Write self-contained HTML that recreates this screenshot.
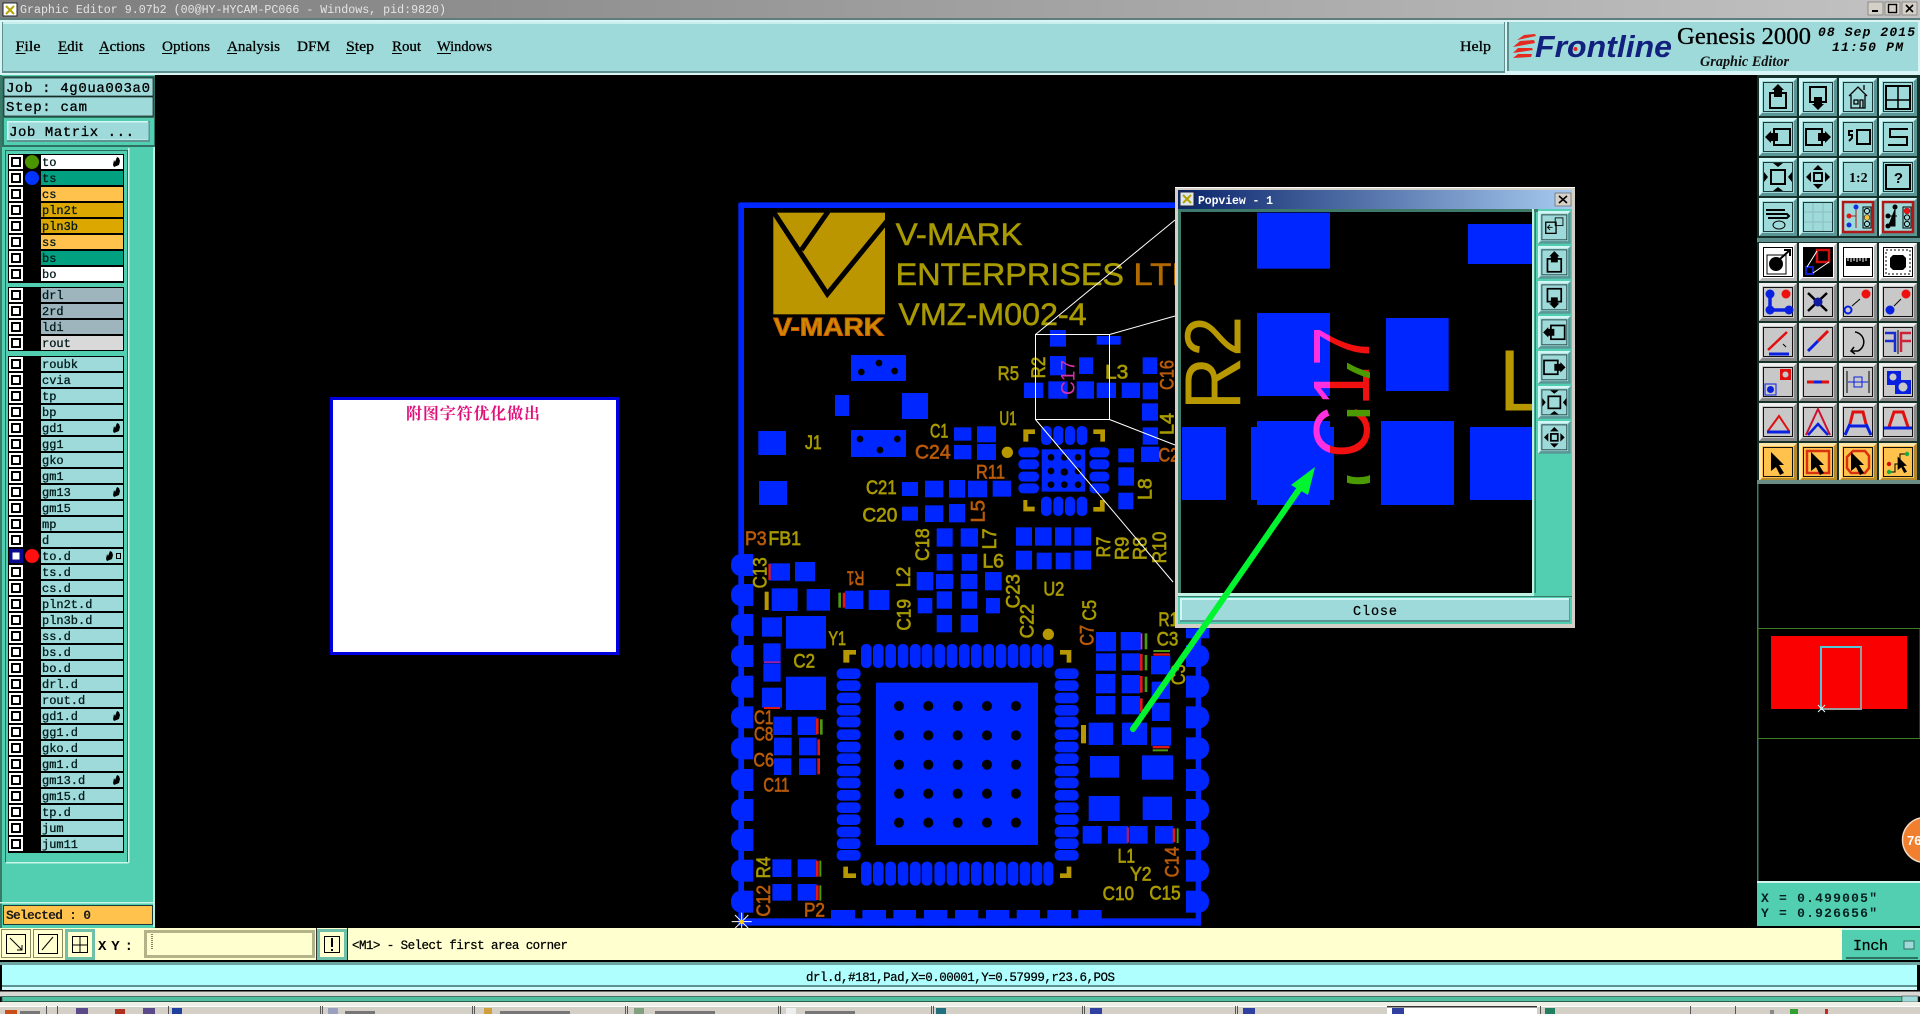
<!DOCTYPE html>
<html><head><meta charset="utf-8"><title>Graphic Editor</title>
<style>
html,body{margin:0;padding:0;background:#000;width:1920px;height:1014px;overflow:hidden}
svg{display:block}
.m{font-family:"Liberation Mono",monospace}
.s{font-family:"Liberation Serif",serif}
.l{font-family:"Liberation Mono",monospace;font-size:12px;fill:#001a1a;stroke:#001a1a;stroke-width:.3px}
.mn{font-family:"Liberation Serif",serif;font-size:15px;fill:#000;stroke:#000;stroke-width:.3px}
.p{font-family:"Liberation Sans",sans-serif;font-size:58px;fill:#a89a00;stroke:#a89a00;stroke-width:2px}
.r{font-family:"Liberation Sans",sans-serif;font-size:58px;fill:#b85a08;stroke:#b85a08;stroke-width:2px}
.bl rect{fill:#0026ff}
</style></head><body>
<svg xmlns="http://www.w3.org/2000/svg" width="1920" height="1014" viewBox="0 0 1920 1014">
<defs>
<linearGradient id="tb" x1="0" x2="1"><stop offset="0" stop-color="#7d7d7d"/><stop offset="1" stop-color="#c2c2c2"/></linearGradient>
<linearGradient id="pt" x1="0" x2="1"><stop offset="0" stop-color="#0a246a"/><stop offset="1" stop-color="#a6caf0"/></linearGradient>
<clipPath id="pc"><rect x="1181" y="212" width="351" height="381"/></clipPath>
<clipPath id="c1"><rect x="1170" y="180" width="160" height="460"/></clipPath>
<clipPath id="c2"><rect x="1330" y="180" width="17" height="460"/></clipPath>
<clipPath id="c3"><rect x="1347" y="180" width="23" height="460"/></clipPath>
<g id="ck"><rect x="9" y="-7" width="14" height="14" fill="#fff"/><rect x="11" y="-5" width="10" height="10" fill="#000"/><rect x="13" y="-3" width="6" height="6" fill="#fff"/></g>
<g id="h"><path d="M113,3 l1,-5 1,2 2,-5 2,1 1,3 -1,4 -5,2z" fill="#000"/></g>
<g id="bt"><rect width="38" height="38" fill="#5a9696"/><polygon points="0,0 38,0 35,3 3,3 3,35 0,38" fill="#d2f5f5"/><rect x="3" y="3" width="32" height="32" fill="#9fdada"/><rect x="4.5" y="4.5" width="29" height="29" fill="none" stroke="#1d3a3a"/></g>
<g id="bw"><rect width="38" height="38" fill="#b8b8b8"/><polygon points="0,0 38,0 35,3 3,3 3,35 0,38" fill="#fff"/><rect x="3" y="3" width="32" height="32" fill="#fff"/><rect x="4.5" y="4.5" width="29" height="29" fill="none" stroke="#000"/></g>
<g id="bg"><rect width="38" height="38" fill="#8a8a8a"/><polygon points="0,0 38,0 35,3 3,3 3,35 0,38" fill="#eee"/><rect x="3" y="3" width="32" height="32" fill="#c8c8c8"/><rect x="4.5" y="4.5" width="29" height="29" fill="none" stroke="#111"/></g>
<g id="by"><rect width="38" height="38" fill="#b58a2a"/><polygon points="0,0 38,0 35,3 3,3 3,35 0,38" fill="#ffe6a8"/><rect x="3" y="3" width="32" height="32" fill="#ffc34d"/><rect x="4.5" y="4.5" width="29" height="29" fill="none" stroke="#111"/></g>
<g id="iu"><rect x="11" y="15" width="16" height="15" fill="none" stroke="#000" stroke-width="2"/><polygon points="19,6 25,12 23,12 23,19 15,19 15,12 13,12" fill="#000"/></g>
<g id="id"><rect x="11" y="9" width="16" height="15" fill="none" stroke="#000" stroke-width="2"/><polygon points="19,32 25,26 23,26 23,19 15,19 15,26 13,26" fill="#000"/></g>
<g id="il"><rect x="15" y="11" width="16" height="16" fill="none" stroke="#000" stroke-width="2"/><polygon points="6,19 12,13 12,15 19,15 19,23 12,23 12,25" fill="#000"/></g>
<g id="ir"><rect x="7" y="11" width="16" height="16" fill="none" stroke="#000" stroke-width="2"/><polygon points="32,19 26,13 26,15 19,15 19,23 26,23 26,25" fill="#000"/></g>
<g id="ifit"><rect x="12" y="12" width="14" height="14" fill="none" stroke="#000" stroke-width="2"/><polygon points="19,9 14,5 24,5" fill="#000"/><polygon points="19,29 14,33 24,33" fill="#000"/><polygon points="9,19 5,14 5,24" fill="#000"/><polygon points="29,19 33,14 33,24" fill="#000"/></g>
<g id="ipan"><rect x="15" y="15" width="8" height="8" fill="none" stroke="#000" stroke-width="2"/><polygon points="19,7 14,12 24,12" fill="#000"/><polygon points="19,31 14,26 24,26" fill="#000"/><polygon points="7,19 12,14 12,24" fill="#000"/><polygon points="31,19 26,14 26,24" fill="#000"/></g>
<g id="cur"><polygon points="12,9 25,22 20,22 25,30 21,32 17,24 12,28" fill="#000"/></g>
<g id="lp"><rect x="3" y="-33" width="60" height="66" rx="30"/><rect x="30" y="-33" width="40" height="66"/></g>
<g id="rp"><rect x="1377" y="-33" width="60" height="66" rx="30"/><rect x="1368" y="-33" width="40" height="66"/></g>
<g id="tl"><path d="M7,7h24v24h-24z" fill="#9fdada"/><rect x="4" y="4" width="30" height="30" fill="none" stroke="#b01818" stroke-width="2.5"/><rect x="24" y="9" width="8" height="21" fill="none" stroke="#000"/><circle cx="28" cy="13" r="2.6" fill="none" stroke="#000"/><circle cx="28" cy="19.5" r="2.6" fill="none" stroke="#000"/><circle cx="28" cy="26" r="2.6" fill="none" stroke="#000"/></g>
</defs>

<rect width="1920" height="1014" fill="#000"/>

<!-- title bar -->
<rect x="0" y="0" width="1920" height="18" fill="url(#tb)"/>
<rect x="0" y="18" width="1920" height="2" fill="#5e7e7e"/>
<rect x="3" y="3" width="14" height="13" fill="#fff" stroke="#223" stroke-width="1"/>
<path d="M6,6 l8,8 M14,6 l-8,8" stroke="#b5a400" stroke-width="2"/>
<text class="m" x="20" y="13" font-size="11.5" fill="#e4e4e4" textLength="426" lengthAdjust="spacingAndGlyphs">Graphic Editor 9.07b2  (00@HY-HYCAM-PC066 - Windows, pid:9820)</text>
<g>
<rect x="1868" y="2" width="15" height="13" fill="#d4d0c8" stroke="#666" stroke-width=".6"/><rect x="1872" y="10" width="6" height="2" fill="#000"/>
<rect x="1885" y="2" width="15" height="13" fill="#d4d0c8" stroke="#666" stroke-width=".6"/><rect x="1888.5" y="4.5" width="8" height="8" fill="none" stroke="#000" stroke-width="1.4"/>
<rect x="1902" y="2" width="15" height="13" fill="#d4d0c8" stroke="#666" stroke-width=".6"/><path d="M1906,5 l7,7 M1913,5 l-7,7" stroke="#000" stroke-width="1.6"/>
</g>

<!-- menu -->
<rect x="0" y="20" width="1920" height="55" fill="#d8f4f4"/>
<rect x="2" y="22" width="1503" height="51" fill="#5e9090"/>
<rect x="3" y="22" width="1501" height="49" fill="#9fdada"/>
<rect x="3" y="22" width="1501" height="2" fill="#c8eeee"/>
<rect x="1507" y="22" width="411" height="51" fill="#9fdada"/>
<rect x="1507" y="22" width="2" height="51" fill="#5e9090"/>
<rect x="1507" y="71" width="411" height="2" fill="#d8f4f4"/>
<text class="mn" x="15.5" y="51" textLength="25" lengthAdjust="spacingAndGlyphs">File</text><rect x="15.5" y="53" width="10" height="1" fill="#000"/>
<text class="mn" x="58" y="51" textLength="25" lengthAdjust="spacingAndGlyphs">Edit</text><rect x="58" y="53" width="10" height="1" fill="#000"/>
<text class="mn" x="99" y="51" textLength="46" lengthAdjust="spacingAndGlyphs">Actions</text><rect x="99" y="53" width="10" height="1" fill="#000"/>
<text class="mn" x="162" y="51" textLength="48" lengthAdjust="spacingAndGlyphs">Options</text><rect x="162" y="53" width="10" height="1" fill="#000"/>
<text class="mn" x="227" y="51" textLength="53" lengthAdjust="spacingAndGlyphs">Analysis</text><rect x="227" y="53" width="10" height="1" fill="#000"/>
<text class="mn" x="297" y="51" textLength="33" lengthAdjust="spacingAndGlyphs">DFM</text>
<text class="mn" x="346" y="51" textLength="28" lengthAdjust="spacingAndGlyphs">Step</text><rect x="346" y="53" width="10" height="1" fill="#000"/>
<text class="mn" x="392" y="51" textLength="29" lengthAdjust="spacingAndGlyphs">Rout</text><rect x="392" y="53" width="10" height="1" fill="#000"/>
<text class="mn" x="437" y="51" textLength="55" lengthAdjust="spacingAndGlyphs">Windows</text><rect x="437" y="53" width="14" height="1" fill="#000"/>
<text class="mn" x="1460" y="51" textLength="31" lengthAdjust="spacingAndGlyphs">Help</text>

<!-- logo -->
<g fill="#e52a20"><polygon points="1513,47 1535,43 1534,40 1520,41"/><polygon points="1517,40 1536,36 1535,34 1524,35"/><polygon points="1513,53 1533,50 1532,48 1518,48"/><polygon points="1513,58 1531,57 1532,54 1518,54"/></g>
<text x="1535" y="57" font-family="'Liberation Sans',sans-serif" font-weight="bold" font-style="italic" font-size="31" fill="#12207e" textLength="137" lengthAdjust="spacingAndGlyphs">Frontline</text>
<circle cx="1575.500" cy="49" r="2" fill="#e52a20"/>
<text class="s" x="1677" y="44" font-size="24" fill="#000" stroke="#000" stroke-width=".3" textLength="134" lengthAdjust="spacingAndGlyphs">Genesis 2000</text>
<text class="s" x="1700" y="66" font-size="14.500" font-weight="bold" font-style="italic" fill="#111" textLength="89" lengthAdjust="spacingAndGlyphs">Graphic Editor</text>
<text class="m" x="1818" y="36" font-size="13" font-weight="bold" font-style="italic" fill="#000" textLength="97" lengthAdjust="spacing">08 Sep 2015</text>
<text class="m" x="1832" y="51" font-size="13" font-weight="bold" font-style="italic" fill="#000" textLength="71" lengthAdjust="spacing">11:50 PM</text>

<!-- left panel -->
<rect x="0" y="75" width="155" height="853" fill="#52cfb0"/>
<rect x="0" y="75" width="2" height="853" fill="#3a7a68"/>
<rect x="153" y="147" width="2" height="780" fill="#b8f0e0"/>
<rect x="2" y="76" width="153" height="71" fill="#2f7060"/>
<rect x="4" y="78" width="149" height="18" fill="#9fdada" stroke="#000" stroke-width=".6"/>
<rect x="4" y="97" width="149" height="19" fill="#9fdada" stroke="#000" stroke-width=".6"/>
<text class="m" x="6" y="92" font-size="14" fill="#000" stroke="#000" stroke-width=".3" textLength="144" lengthAdjust="spacing">Job : 4g0ua003a0</text>
<text class="m" x="6" y="111" font-size="14" fill="#000" stroke="#000" stroke-width=".3" textLength="81" lengthAdjust="spacing">Step: cam</text>
<rect x="4" y="118" width="150" height="27" fill="#52cfb0"/>
<rect x="7" y="121" width="143" height="21" fill="#5e9494"/>
<rect x="7" y="121" width="141" height="19" fill="#d2f5f5"/>
<rect x="8.500" y="122.500" width="140" height="17" fill="#9fdada"/>
<text class="m" x="9" y="136" font-size="14" fill="#000" stroke="#000" stroke-width=".3" textLength="125" lengthAdjust="spacing">Job Matrix ...</text>

<rect x="5.500" y="150.500" width="122" height="712" fill="#52cfb0" stroke="#2f6b5a"/>
<rect x="128" y="148" width="1.500" height="715" fill="#c8f5e8"/>
<rect x="5.500" y="862" width="123" height="1.500" fill="#c8f5e8"/>
<rect x="8" y="154" width="116" height="129" fill="#000"/>
<rect x="8" y="287" width="116" height="64" fill="#000"/>
<rect x="8" y="356" width="116" height="497" fill="#000"/>

<!-- layers group 1 -->
<g>
<use href="#ck" y="162"/><circle cx="32" cy="162" r="7" fill="#4a9400"/><rect x="41" y="155" width="82" height="14" fill="#fff"/><text class="l" x="42" y="166">to</text><use href="#h" y="162"/>
<use href="#ck" y="178"/><circle cx="32" cy="178" r="7" fill="#0033ff"/><rect x="41" y="171" width="82" height="14" fill="#00a080"/><text class="l" x="42" y="182">ts</text>
<use href="#ck" y="194"/><rect x="41" y="187" width="82" height="14" fill="#ffc34d"/><text class="l" x="42" y="198">cs</text>
<use href="#ck" y="210"/><rect x="41" y="203" width="82" height="14" fill="#dca800"/><text class="l" x="42" y="214">pln2t</text>
<use href="#ck" y="226"/><rect x="41" y="219" width="82" height="14" fill="#dca800"/><text class="l" x="42" y="230">pln3b</text>
<use href="#ck" y="242"/><rect x="41" y="235" width="82" height="14" fill="#ffc34d"/><text class="l" x="42" y="246">ss</text>
<use href="#ck" y="258"/><rect x="41" y="251" width="82" height="14" fill="#00a080"/><text class="l" x="42" y="262">bs</text>
<use href="#ck" y="274"/><rect x="41" y="267" width="82" height="14" fill="#fff"/><text class="l" x="42" y="278">bo</text>

<use href="#ck" y="295"/><rect x="41" y="288" width="82" height="14" fill="#9fb5bd"/><text class="l" x="42" y="299">drl</text>
<use href="#ck" y="311"/><rect x="41" y="304" width="82" height="14" fill="#9fb5bd"/><text class="l" x="42" y="315">2rd</text>
<use href="#ck" y="327"/><rect x="41" y="320" width="82" height="14" fill="#9fb5bd"/><text class="l" x="42" y="331">ldi</text>
<use href="#ck" y="343"/><rect x="41" y="336" width="82" height="14" fill="#d9d9d9"/><text class="l" x="42" y="347">rout</text>
</g>
<g>
<use href="#ck" y="364"/><rect x="41" y="357" width="82" height="14" fill="#9fdada"/><text class="l" x="42" y="368">roubk</text>
<use href="#ck" y="380"/><rect x="41" y="373" width="82" height="14" fill="#9fdada"/><text class="l" x="42" y="384">cvia</text>
<use href="#ck" y="396"/><rect x="41" y="389" width="82" height="14" fill="#9fdada"/><text class="l" x="42" y="400">tp</text>
<use href="#ck" y="412"/><rect x="41" y="405" width="82" height="14" fill="#9fdada"/><text class="l" x="42" y="416">bp</text>
<use href="#ck" y="428"/><rect x="41" y="421" width="82" height="14" fill="#9fdada"/><text class="l" x="42" y="432">gd1</text><use href="#h" y="428"/>
<use href="#ck" y="444"/><rect x="41" y="437" width="82" height="14" fill="#9fdada"/><text class="l" x="42" y="448">gg1</text>
<use href="#ck" y="460"/><rect x="41" y="453" width="82" height="14" fill="#9fdada"/><text class="l" x="42" y="464">gko</text>
<use href="#ck" y="476"/><rect x="41" y="469" width="82" height="14" fill="#9fdada"/><text class="l" x="42" y="480">gm1</text>
<use href="#ck" y="492"/><rect x="41" y="485" width="82" height="14" fill="#9fdada"/><text class="l" x="42" y="496">gm13</text><use href="#h" y="492"/>
<use href="#ck" y="508"/><rect x="41" y="501" width="82" height="14" fill="#9fdada"/><text class="l" x="42" y="512">gm15</text>
<use href="#ck" y="524"/><rect x="41" y="517" width="82" height="14" fill="#9fdada"/><text class="l" x="42" y="528">mp</text>
<use href="#ck" y="540"/><rect x="41" y="533" width="82" height="14" fill="#9fdada"/><text class="l" x="42" y="544">d</text>
<rect x="9" y="549" width="14" height="14" fill="#0a0a90"/><rect x="12.500" y="552.500" width="7" height="7" fill="#fff"/><circle cx="32" cy="556" r="7" fill="#ff1010"/><rect x="41" y="549" width="82" height="14" fill="#9fdada"/><text class="l" x="42" y="560">to.d</text><use href="#h" x="-7" y="556"/><rect x="116.500" y="553.500" width="4" height="5" fill="none" stroke="#000"/>
<use href="#ck" y="572"/><rect x="41" y="565" width="82" height="14" fill="#9fdada"/><text class="l" x="42" y="576">ts.d</text>
<use href="#ck" y="588"/><rect x="41" y="581" width="82" height="14" fill="#9fdada"/><text class="l" x="42" y="592">cs.d</text>
<use href="#ck" y="604"/><rect x="41" y="597" width="82" height="14" fill="#9fdada"/><text class="l" x="42" y="608">pln2t.d</text>
<use href="#ck" y="620"/><rect x="41" y="613" width="82" height="14" fill="#9fdada"/><text class="l" x="42" y="624">pln3b.d</text>
<use href="#ck" y="636"/><rect x="41" y="629" width="82" height="14" fill="#9fdada"/><text class="l" x="42" y="640">ss.d</text>
<use href="#ck" y="652"/><rect x="41" y="645" width="82" height="14" fill="#9fdada"/><text class="l" x="42" y="656">bs.d</text>
<use href="#ck" y="668"/><rect x="41" y="661" width="82" height="14" fill="#9fdada"/><text class="l" x="42" y="672">bo.d</text>
<use href="#ck" y="684"/><rect x="41" y="677" width="82" height="14" fill="#9fdada"/><text class="l" x="42" y="688">drl.d</text>
<use href="#ck" y="700"/><rect x="41" y="693" width="82" height="14" fill="#9fdada"/><text class="l" x="42" y="704">rout.d</text>
<use href="#ck" y="716"/><rect x="41" y="709" width="82" height="14" fill="#9fdada"/><text class="l" x="42" y="720">gd1.d</text><use href="#h" y="716"/>
<use href="#ck" y="732"/><rect x="41" y="725" width="82" height="14" fill="#9fdada"/><text class="l" x="42" y="736">gg1.d</text>
<use href="#ck" y="748"/><rect x="41" y="741" width="82" height="14" fill="#9fdada"/><text class="l" x="42" y="752">gko.d</text>
<use href="#ck" y="764"/><rect x="41" y="757" width="82" height="14" fill="#9fdada"/><text class="l" x="42" y="768">gm1.d</text>
<use href="#ck" y="780"/><rect x="41" y="773" width="82" height="14" fill="#9fdada"/><text class="l" x="42" y="784">gm13.d</text><use href="#h" y="780"/>
<use href="#ck" y="796"/><rect x="41" y="789" width="82" height="14" fill="#9fdada"/><text class="l" x="42" y="800">gm15.d</text>
<use href="#ck" y="812"/><rect x="41" y="805" width="82" height="14" fill="#9fdada"/><text class="l" x="42" y="816">tp.d</text>
<use href="#ck" y="828"/><rect x="41" y="821" width="82" height="14" fill="#9fdada"/><text class="l" x="42" y="832">jum</text>
<use href="#ck" y="844"/><rect x="41" y="837" width="82" height="14" fill="#9fdada"/><text class="l" x="42" y="848">jum11</text>
</g>
<rect x="0" y="902" width="155" height="1.500" fill="#c8f5e8"/>
<rect x="3.500" y="905.500" width="149" height="19" fill="#ffc34d" stroke="#1d3a3a"/>
<text class="m" x="6" y="919" font-size="13" font-weight="bold" fill="#1a1a1a" textLength="85" lengthAdjust="spacing">Selected : 0</text>

<!-- white note -->
<rect x="331.500" y="398.500" width="286" height="255" fill="#fff" stroke="#0000e0" stroke-width="3"/>
<text x="406" y="419" font-family="'Liberation Serif','Noto Serif CJK SC',serif" font-weight="bold" font-size="16" fill="#e0107a" textLength="134">附图字符优化做出</text>

<!-- PCB: zoom-5 coordinates -->
<g transform="translate(730,500) scale(.33333)" fill="#0026ff">
<rect x="25" y="-890" width="17" height="2167"/>
<rect x="25" y="1255" width="1388" height="22"/>
<rect x="1397" y="385" width="16" height="892"/>
<use href="#lp" y="195"/><use href="#lp" y="285"/><use href="#lp" y="375"/><use href="#lp" y="468"/><use href="#lp" y="560"/><use href="#lp" y="652"/><use href="#lp" y="745"/><use href="#lp" y="840"/><use href="#lp" y="930"/><use href="#lp" y="1020"/><use href="#lp" y="1112"/><use href="#lp" y="1205"/>
<use href="#rp" y="468"/><use href="#rp" y="560"/><use href="#rp" y="652"/><use href="#rp" y="745"/><use href="#rp" y="840"/><use href="#rp" y="930"/><use href="#rp" y="1020"/><use href="#rp" y="1112"/><use href="#rp" y="1205"/>
<rect x="1368" y="385" width="70" height="30"/>
<g class="bl">
<rect x="303" y="1230" width="72" height="47"/><rect x="397" y="1230" width="71" height="47"/><rect x="490" y="1230" width="68" height="47"/><rect x="582" y="1230" width="70" height="47"/><rect x="675" y="1230" width="70" height="47"/><rect x="768" y="1230" width="70" height="47"/><rect x="860" y="1230" width="70" height="47"/><rect x="952" y="1230" width="71" height="47"/><rect x="1045" y="1230" width="70" height="47"/>
<rect x="438" y="548" width="486" height="487"/>
<rect x="620" y="85" width="48" height="55"/><rect x="692" y="85" width="52" height="55"/><rect x="620" y="162" width="48" height="50"/><rect x="695" y="162" width="46" height="50"/><rect x="858" y="82" width="48" height="55"/><rect x="915" y="82" width="50" height="55"/><rect x="975" y="82" width="48" height="55"/><rect x="1033" y="82" width="50" height="55"/><rect x="858" y="152" width="48" height="57"/><rect x="920" y="158" width="45" height="50"/><rect x="977" y="158" width="45" height="50"/><rect x="1033" y="152" width="50" height="57"/>
<rect x="118" y="190" width="62" height="52"/><rect x="195" y="186" width="60" height="58"/><rect x="125" y="265" width="78" height="68"/><rect x="230" y="267" width="70" height="65"/><rect x="345" y="272" width="55" height="55"/><rect x="416" y="270" width="62" height="60"/>
<rect x="560" y="216" width="50" height="55"/><rect x="618" y="222" width="52" height="45"/><rect x="692" y="222" width="50" height="45"/><rect x="765" y="216" width="50" height="55"/><rect x="563" y="294" width="44" height="46"/><rect x="620" y="274" width="46" height="52"/><rect x="695" y="274" width="46" height="52"/><rect x="768" y="294" width="42" height="46"/><rect x="620" y="345" width="46" height="52"/><rect x="692" y="345" width="52" height="52"/>
<rect x="96" y="352" width="60" height="58"/><rect x="168" y="348" width="120" height="98"/><rect x="100" y="430" width="52" height="55"/><rect x="100" y="490" width="52" height="55"/><rect x="96" y="563" width="60" height="60"/><rect x="168" y="530" width="120" height="100"/>
<rect x="130" y="650" width="55" height="55"/><rect x="203" y="650" width="57" height="55"/><rect x="132" y="713" width="53" height="53"/><rect x="207" y="713" width="53" height="53"/><rect x="132" y="775" width="52" height="50"/><rect x="207" y="775" width="52" height="50"/>
<rect x="1098" y="396" width="60" height="58"/><rect x="1172" y="396" width="60" height="55"/><rect x="1098" y="460" width="60" height="52"/><rect x="1175" y="460" width="55" height="52"/><rect x="1098" y="522" width="58" height="58"/><rect x="1175" y="525" width="55" height="55"/><rect x="1098" y="588" width="58" height="55"/><rect x="1175" y="588" width="55" height="55"/><rect x="1263" y="468" width="58" height="55"/><rect x="1265" y="545" width="55" height="52"/><rect x="1266" y="608" width="53" height="55"/><rect x="1263" y="682" width="60" height="55"/>
<rect x="1076" y="668" width="73" height="67"/><rect x="1176" y="668" width="75" height="67"/><rect x="1080" y="768" width="87" height="65"/><rect x="1236" y="766" width="93" height="73"/><rect x="1076" y="888" width="93" height="75"/><rect x="1238" y="890" width="88" height="70"/>
<rect x="1058" y="978" width="57" height="53"/><rect x="1134" y="978" width="60" height="53"/><rect x="1198" y="978" width="55" height="53"/><rect x="1275" y="978" width="55" height="53"/>
<rect x="127" y="1078" width="57" height="53"/><rect x="203" y="1078" width="57" height="53"/><rect x="127" y="1152" width="57" height="50"/><rect x="203" y="1152" width="57" height="50"/>
<rect x="516" y="20" width="48" height="42"/><rect x="585" y="16" width="55" height="50"/><rect x="657" y="12" width="48" height="55"/>
</g>
<g>
<g id="tp"><rect x="393" y="432" width="32" height="72" rx="14"/><rect x="429" y="432" width="32" height="72" rx="14"/><rect x="466" y="432" width="32" height="72" rx="14"/><rect x="503" y="432" width="32" height="72" rx="14"/><rect x="540" y="432" width="32" height="72" rx="14"/><rect x="575" y="432" width="32" height="72" rx="14"/><rect x="613" y="432" width="32" height="72" rx="14"/><rect x="650" y="432" width="32" height="72" rx="14"/><rect x="687" y="432" width="32" height="72" rx="14"/><rect x="723" y="432" width="32" height="72" rx="14"/><rect x="760" y="432" width="32" height="72" rx="14"/><rect x="797" y="432" width="32" height="72" rx="14"/><rect x="833" y="432" width="32" height="72" rx="14"/><rect x="869" y="432" width="32" height="72" rx="14"/><rect x="905" y="432" width="32" height="72" rx="14"/><rect x="940" y="432" width="30" height="72" rx="14"/></g>
<use href="#tp" y="653"/>
<g id="lf"><rect x="320" y="505" width="72" height="32" rx="14"/><rect x="320" y="541" width="72" height="32" rx="14"/><rect x="320" y="578" width="72" height="32" rx="14"/><rect x="320" y="615" width="72" height="32" rx="14"/><rect x="320" y="650" width="72" height="32" rx="14"/><rect x="320" y="688" width="72" height="32" rx="14"/><rect x="320" y="725" width="72" height="32" rx="14"/><rect x="320" y="760" width="72" height="32" rx="14"/><rect x="320" y="797" width="72" height="32" rx="14"/><rect x="320" y="833" width="72" height="32" rx="14"/><rect x="320" y="870" width="72" height="32" rx="14"/><rect x="320" y="907" width="72" height="32" rx="14"/><rect x="320" y="943" width="72" height="32" rx="14"/><rect x="320" y="980" width="72" height="32" rx="14"/><rect x="320" y="1015" width="72" height="32" rx="14"/><rect x="320" y="1050" width="72" height="32" rx="14"/></g>
<use href="#lf" x="654"/>
</g>
<g fill="#000">
<circle cx="507" cy="618" r="15"/><circle cx="595" cy="618" r="15"/><circle cx="683" cy="618" r="15"/><circle cx="771" cy="618" r="15"/><circle cx="858" cy="618" r="15"/>
<circle cx="507" cy="706" r="15"/><circle cx="595" cy="706" r="15"/><circle cx="683" cy="706" r="15"/><circle cx="771" cy="706" r="15"/><circle cx="858" cy="706" r="15"/>
<circle cx="507" cy="794" r="15"/><circle cx="595" cy="794" r="15"/><circle cx="683" cy="794" r="15"/><circle cx="771" cy="794" r="15"/><circle cx="858" cy="794" r="15"/>
<circle cx="507" cy="881" r="15"/><circle cx="595" cy="881" r="15"/><circle cx="683" cy="881" r="15"/><circle cx="771" cy="881" r="15"/><circle cx="858" cy="881" r="15"/>
<circle cx="507" cy="968" r="15"/><circle cx="595" cy="968" r="15"/><circle cx="683" cy="968" r="15"/><circle cx="771" cy="968" r="15"/><circle cx="858" cy="968" r="15"/>
</g>
<g fill="#b89800">
<path d="M340,450h38v14h-20v24h-18z"/><path d="M990,450h34v38h-14v-24h-20z"/><path d="M340,1100h14v20h24v14h-38z"/><path d="M1010,1100h14v34h-34v-14h20z"/>
<circle cx="955" cy="403" r="17"/>
<path d="M880,0h12v20h22v14h-34z"/><path d="M1110,0h14v35h-34v-14h20z"/>
<rect x="104" y="275" width="12" height="55"/><rect x="1053" y="675" width="15" height="55"/>
</g>
<g fill="#e01818">
<rect x="115" y="192" width="7" height="48"/><rect x="338" y="278" width="8" height="45"/><rect x="102" y="621" width="48" height="6"/><rect x="258" y="655" width="8" height="48"/><rect x="262" y="718" width="8" height="48"/><rect x="262" y="775" width="8" height="48"/><rect x="1230" y="462" width="8" height="50"/><rect x="1230" y="528" width="8" height="50"/><rect x="1230" y="595" width="8" height="40"/><rect x="1270" y="460" width="50" height="7"/><rect x="1268" y="738" width="50" height="7"/><rect x="1328" y="985" width="8" height="42"/><rect x="258" y="1082" width="8" height="48"/><rect x="258" y="1156" width="8" height="44"/>
</g>
<g fill="#4a9a10">
<rect x="325" y="278" width="8" height="45"/><rect x="270" y="658" width="8" height="46"/><rect x="1244" y="400" width="8" height="48"/><rect x="1244" y="465" width="8" height="46"/><rect x="1244" y="530" width="8" height="46"/><rect x="1270" y="450" width="50" height="6"/><rect x="1268" y="748" width="46" height="6"/><rect x="1340" y="985" width="6" height="44"/><rect x="268" y="1082" width="6" height="48"/><rect x="268" y="1156" width="6" height="46"/>
</g>
<rect x="102" y="484" width="50" height="5" fill="#a020a0"/><rect x="1190" y="982" width="7" height="46" fill="#a02070"/><rect x="1232" y="400" width="5" height="48" fill="#e030c0"/>
<g>
<text class="r" x="45" y="135" textLength="65" lengthAdjust="spacingAndGlyphs">P3</text><text class="p" x="115" y="135" textLength="98" lengthAdjust="spacingAndGlyphs">FB1</text>
<text class="p" x="397" y="65" textLength="105" lengthAdjust="spacingAndGlyphs">C20</text>
<text class="p" transform="translate(110,265) rotate(-90)" textLength="93" lengthAdjust="spacingAndGlyphs">C13</text>
<text class="r" transform="translate(403,215) rotate(180)" textLength="53" lengthAdjust="spacingAndGlyphs">R1</text>
<text class="p" x="295" y="435" textLength="53" lengthAdjust="spacingAndGlyphs">Y1</text>
<text class="p" x="190" y="503" textLength="65" lengthAdjust="spacingAndGlyphs">C2</text>
<text class="p" transform="translate(597,183) rotate(-90)" textLength="98" lengthAdjust="spacingAndGlyphs">C18</text>
<text class="p" transform="translate(540,262) rotate(-90)" textLength="62" lengthAdjust="spacingAndGlyphs">L2</text>
<text class="p" transform="translate(542,392) rotate(-90)" textLength="95" lengthAdjust="spacingAndGlyphs">C19</text>
<text class="p" transform="translate(798,148) rotate(-90)" textLength="63" lengthAdjust="spacingAndGlyphs">L7</text>
<text class="p" x="757" y="203" textLength="65" lengthAdjust="spacingAndGlyphs">L6</text>
<text class="r" transform="translate(763,68) rotate(-90)" textLength="68" lengthAdjust="spacingAndGlyphs">L5</text>
<text class="p" transform="translate(868,325) rotate(-90)" textLength="103" lengthAdjust="spacingAndGlyphs">C23</text>
<text class="p" transform="translate(910,415) rotate(-90)" textLength="103" lengthAdjust="spacingAndGlyphs">C22</text>
<text class="p" x="940" y="287" textLength="63" lengthAdjust="spacingAndGlyphs">U2</text>
<text class="p" transform="translate(1098,362) rotate(-90)" textLength="62" lengthAdjust="spacingAndGlyphs">C5</text>
<text class="r" transform="translate(1090,437) rotate(-90)" textLength="62" lengthAdjust="spacingAndGlyphs">C7</text>
<text class="p" transform="translate(1140,172) rotate(-90)" textLength="62" lengthAdjust="spacingAndGlyphs">R7</text>
<text class="p" transform="translate(1195,180) rotate(-90)" textLength="70" lengthAdjust="spacingAndGlyphs">R9</text>
<text class="p" transform="translate(1250,180) rotate(-90)" textLength="70" lengthAdjust="spacingAndGlyphs">R8</text>
<text class="p" transform="translate(1308,190) rotate(-90)" textLength="95" lengthAdjust="spacingAndGlyphs">R10</text>
<text class="p" x="1285" y="378" textLength="60" lengthAdjust="spacingAndGlyphs">R1</text>
<text class="p" x="1280" y="437" textLength="65" lengthAdjust="spacingAndGlyphs">C3</text>
<text class="p" transform="translate(1365,555) rotate(-90)" textLength="62" lengthAdjust="spacingAndGlyphs">C3</text>
<text class="r" x="72" y="672" textLength="58" lengthAdjust="spacingAndGlyphs">C1</text>
<text class="r" x="72" y="722" textLength="58" lengthAdjust="spacingAndGlyphs">C8</text>
<text class="r" x="70" y="800" textLength="62" lengthAdjust="spacingAndGlyphs">C6</text>
<text class="r" x="100" y="875" textLength="78" lengthAdjust="spacingAndGlyphs">C11</text>
<text class="p" transform="translate(120,1135) rotate(-90)" textLength="65" lengthAdjust="spacingAndGlyphs">R4</text>
<text class="r" transform="translate(120,1250) rotate(-90)" textLength="95" lengthAdjust="spacingAndGlyphs">C12</text>
<text class="r" x="222" y="1250" textLength="63" lengthAdjust="spacingAndGlyphs">P2</text>
<text class="p" x="1163" y="1088" textLength="52" lengthAdjust="spacingAndGlyphs">L1</text>
<text class="p" x="1200" y="1142" textLength="65" lengthAdjust="spacingAndGlyphs">Y2</text>
<text class="p" x="1118" y="1200" textLength="94" lengthAdjust="spacingAndGlyphs">C10</text>
<text class="p" x="1258" y="1198" textLength="94" lengthAdjust="spacingAndGlyphs">C15</text>
<text class="r" transform="translate(1345,1132) rotate(-90)" textLength="92" lengthAdjust="spacingAndGlyphs">C14</text>
</g>
<!-- origin -->
<g stroke="#fff" stroke-width="3"><path d="M5,1265h60M35,1238v54M15,1245l40,40M55,1245l-40,40"/></g><circle cx="35" cy="1266" r="6" fill="#ffd000"/>
</g>

<!-- PCB top: zoom-4 coordinates -->
<g transform="translate(730,190) scale(.33333)" fill="#0026ff">
<rect x="25" y="37" width="1320" height="17" rx="6"/>
<g class="bl">
<rect x="960" y="420" width="48" height="50"/><rect x="1100" y="438" width="72" height="26"/><rect x="960" y="498" width="48" height="58"/><rect x="1047" y="502" width="42" height="50"/><rect x="1238" y="502" width="44" height="50"/><rect x="882" y="578" width="58" height="46"/><rect x="955" y="574" width="58" height="52"/><rect x="1040" y="574" width="52" height="52"/><rect x="1100" y="578" width="58" height="46"/><rect x="1175" y="578" width="55" height="46"/><rect x="1238" y="578" width="46" height="50"/><rect x="1236" y="640" width="48" height="52"/><rect x="1238" y="712" width="46" height="52"/><rect x="1233" y="770" width="55" height="46"/>
<rect x="363" y="495" width="165" height="78"/><rect x="315" y="615" width="42" height="63"/><rect x="516" y="609" width="78" height="78"/><rect x="85" y="723" width="83" height="72"/><rect x="363" y="720" width="165" height="81"/><rect x="87" y="873" width="84" height="72"/>
<rect x="672" y="712" width="52" height="40"/><rect x="741" y="709" width="57" height="48"/><rect x="672" y="765" width="52" height="43"/><rect x="741" y="762" width="57" height="48"/>
<rect x="935" y="778" width="130" height="127"/>
<rect x="1165" y="775" width="47" height="42"/><rect x="1165" y="832" width="47" height="55"/><rect x="1165" y="908" width="45" height="50"/>
<rect x="516" y="876" width="48" height="42"/><rect x="585" y="872" width="55" height="50"/><rect x="657" y="870" width="48" height="53"/><rect x="714" y="872" width="57" height="50"/><rect x="788" y="872" width="55" height="48"/>
</g>
<rect x="933" y="708" width="32" height="57" rx="14"/><rect x="970" y="708" width="30" height="57" rx="14"/><rect x="1005" y="708" width="30" height="57" rx="14"/><rect x="1040" y="708" width="32" height="57" rx="14"/>
<rect x="933" y="920" width="32" height="58" rx="14"/><rect x="970" y="920" width="30" height="58" rx="14"/><rect x="1005" y="920" width="30" height="58" rx="14"/><rect x="1040" y="920" width="32" height="58" rx="14"/>
<rect x="865" y="772" width="62" height="30" rx="14"/><rect x="865" y="808" width="62" height="30" rx="14"/><rect x="865" y="845" width="62" height="30" rx="14"/><rect x="865" y="880" width="62" height="30" rx="14"/>
<rect x="1078" y="772" width="60" height="30" rx="14"/><rect x="1078" y="808" width="60" height="30" rx="14"/><rect x="1078" y="845" width="60" height="30" rx="14"/><rect x="1078" y="880" width="60" height="30" rx="14"/>
<g fill="#000"><circle cx="394" cy="546" r="10"/><circle cx="447" cy="519" r="10"/><circle cx="494" cy="543" r="10"/><circle cx="390" cy="747" r="10"/><circle cx="502" cy="747" r="10"/><circle cx="450" cy="780" r="10"/>
<circle cx="963" cy="802" r="10"/><circle cx="1003" cy="802" r="10"/><circle cx="1044" cy="802" r="10"/><circle cx="963" cy="843" r="10"/><circle cx="1003" cy="846" r="11"/><circle cx="1044" cy="843" r="10"/><circle cx="963" cy="884" r="10"/><circle cx="1003" cy="884" r="10"/><circle cx="1044" cy="884" r="10"/></g>
<g fill="#b89800"><path d="M880,718h35v14h-20v23h-15z"/><path d="M1090,718h35v37h-14v-23h-21z"/><circle cx="832" cy="787" r="17"/></g>
<!-- logo -->
<rect x="130" y="68" width="335" height="305" fill="#bc9600"/>
<polyline points="128,62 292,312 472,92" fill="none" stroke="#000" stroke-width="15"/>
<polyline points="296,62 214,180" fill="none" stroke="#000" stroke-width="15"/>
<text x="130" y="437" font-family="'Liberation Sans',sans-serif" font-weight="bold" font-size="74" fill="#c98e00" stroke="#d45a00" stroke-width="3" textLength="332" lengthAdjust="spacingAndGlyphs">V-MARK</text>
<g font-family="'Liberation Sans',sans-serif" font-size="94" fill="#a89a00" stroke="#a89a00" stroke-width="1.500">
<text x="497" y="165" textLength="381" lengthAdjust="spacingAndGlyphs">V-MARK</text>
<text x="497" y="285" textLength="685" lengthAdjust="spacingAndGlyphs">ENTERPRISES</text>
<text x="1210" y="285" fill="#b06a00" stroke="#b06a00" textLength="190" lengthAdjust="spacingAndGlyphs">LTD</text>
<text x="505" y="405" textLength="565" lengthAdjust="spacingAndGlyphs">VMZ-M002-4</text>
</g>
<text class="p" x="803" y="570" textLength="64" lengthAdjust="spacingAndGlyphs">R5</text>
<text class="p" transform="translate(945,565) rotate(-90)" textLength="65" lengthAdjust="spacingAndGlyphs">R2</text>
<text transform="translate(1033,615) rotate(-90)" font-family="'Liberation Sans',sans-serif" font-size="58" fill="#d830b0" textLength="105" lengthAdjust="spacingAndGlyphs">C17</text>
<text class="p" x="1125" y="565" textLength="70" lengthAdjust="spacingAndGlyphs">L3</text>
<text class="r" transform="translate(1330,600) rotate(-90)" textLength="90" lengthAdjust="spacingAndGlyphs">C16</text>
<text class="p" transform="translate(1330,735) rotate(-90)" textLength="66" lengthAdjust="spacingAndGlyphs">L4</text>
<text class="p" x="808" y="705" textLength="52" lengthAdjust="spacingAndGlyphs">U1</text>
<text class="p" x="600" y="742" textLength="55" lengthAdjust="spacingAndGlyphs">C1</text>
<text class="r" x="555" y="805" textLength="107" lengthAdjust="spacingAndGlyphs">C24</text>
<text class="p" x="225" y="777" textLength="50" lengthAdjust="spacingAndGlyphs">J1</text>
<text class="r" x="738" y="865" textLength="87" lengthAdjust="spacingAndGlyphs">R11</text>
<text class="p" x="408" y="912" textLength="92" lengthAdjust="spacingAndGlyphs">C21</text>
<text class="p" transform="translate(1265,930) rotate(-90)" textLength="65" lengthAdjust="spacingAndGlyphs">L8</text>
<text class="r" x="1285" y="815" textLength="90" lengthAdjust="spacingAndGlyphs">C23</text>
</g>

<!-- selection rectangle and zoom lines -->
<g fill="none" stroke="#fff" stroke-width="1">
<rect x="1035.500" y="334.500" width="74" height="85"/>
<path d="M1035.500,334.500L1175,220M1109.500,334.500L1175,316M1109.500,419.500L1175,445M1035.500,419.500L1173,582"/>
</g>

<!-- popup window -->
<rect x="1175" y="187" width="400" height="441" fill="#d4d0c8"/>
<rect x="1175" y="187" width="400" height="1" fill="#fff"/>
<rect x="1178" y="190" width="394" height="19" fill="url(#pt)"/>
<rect x="1180" y="192" width="14" height="14" fill="#dfe8f0" stroke="#223"/>
<path d="M1183,195l8,8M1191,195l-8,8" stroke="#b5a400" stroke-width="2"/>
<text class="m" x="1198" y="204" font-size="11.500" font-weight="bold" fill="#fff" textLength="75" lengthAdjust="spacing">Popview - 1</text>
<rect x="1555" y="193" width="16" height="13" fill="#d4d0c8" stroke="#555" stroke-width=".6"/><path d="M1559,196l8,7M1567,196l-8,7" stroke="#000" stroke-width="1.600"/>
<rect x="1178" y="209" width="394" height="415" fill="#52cfb0"/>
<rect x="1178" y="209" width="360" height="3" fill="#3d7a6a"/>
<rect x="1178" y="209" width="3" height="384" fill="#3d7a6a"/>
<rect x="1181" y="212" width="351" height="381" fill="#000"/>
<rect x="1532" y="209" width="2" height="384" fill="#c0f2e4"/>
<rect x="1534.500" y="209" width="1.500" height="384" fill="#3d7a6a"/>
<rect x="1178" y="593" width="356" height="3" fill="#c0f2e4"/>
<rect x="1178" y="596" width="394" height="1" fill="#3d7a6a"/>
<g transform="translate(1170,180) scale(.33333)">
<g class="bl">
<rect x="261" y="98" width="219" height="168"/><rect x="894" y="132" width="192" height="120"/><rect x="261" y="399" width="219" height="249"/><rect x="648" y="414" width="188" height="219"/><rect x="36" y="741" width="132" height="219"/><rect x="243" y="741" width="249" height="219"/><rect x="261" y="723" width="219" height="252"/><rect x="633" y="723" width="219" height="252"/><rect x="900" y="741" width="186" height="219"/>
</g>
</g>
<g clip-path="url(#pc)">
<g transform="translate(1170,180) scale(.33333)">
<text transform="translate(212,690) rotate(-90)" font-family="'Liberation Sans',sans-serif" font-size="240" fill="#b89800" textLength="282" lengthAdjust="spacingAndGlyphs">R2</text>
<text x="985" y="692" font-family="'Liberation Sans',sans-serif" font-size="262" fill="#b89800">L</text>
</g>
<g clip-path="url(#c1)"><text transform="translate(1369,458) rotate(-90) scale(.33333)" font-family="'Liberation Sans',sans-serif" font-size="240" fill="#ff30e0" textLength="395" lengthAdjust="spacingAndGlyphs">C17</text></g>
<g clip-path="url(#c2)"><text transform="translate(1369,458) rotate(-90) scale(.33333)" font-family="'Liberation Sans',sans-serif" font-size="240" fill="#f01010" textLength="395" lengthAdjust="spacingAndGlyphs">C17</text></g>
<g clip-path="url(#c3)"><text transform="translate(1369,458) rotate(-90) scale(.33333)" font-family="'Liberation Sans',sans-serif" font-size="240" fill="#f01010" textLength="395" lengthAdjust="spacingAndGlyphs">C17</text></g>
<g clip-path="url(#c3)"><text transform="translate(1386,488) rotate(-90) scale(.33333)" font-family="'Liberation Sans',sans-serif" font-size="240" fill="#4a9a00" textLength="405" lengthAdjust="spacingAndGlyphs">C17</text></g>
</g>
<g transform="translate(1538,211) scale(.86)"><use href="#bt"/><rect x="9" y="13" width="12" height="13" fill="none" stroke="#000" stroke-width="1.500"/><rect x="20" y="8" width="9" height="9" fill="none" stroke="#000"/><path d="M17,19h-6m3,-3l-3,3 3,3" stroke="#000" fill="none"/></g>
<g transform="translate(1538,246) scale(.86)"><use href="#bt"/><use href="#iu"/></g>
<g transform="translate(1538,281) scale(.86)"><use href="#bt"/><use href="#id"/></g>
<g transform="translate(1538,316) scale(.86)"><use href="#bt"/><use href="#il"/></g>
<g transform="translate(1538,351) scale(.86)"><use href="#bt"/><use href="#ir"/></g>
<g transform="translate(1538,386) scale(.86)"><use href="#bt"/><use href="#ifit"/></g>
<g transform="translate(1538,421) scale(.86)"><use href="#bt"/><use href="#ipan"/></g>
<rect x="1180" y="598" width="390" height="24" fill="#5a9696"/>
<rect x="1180" y="598" width="389" height="22" fill="#d2f5f5"/>
<rect x="1182" y="600" width="387" height="20" fill="#9fdada"/>
<text class="m" x="1353" y="615" font-size="13.500" fill="#000" stroke="#000" stroke-width=".25" textLength="44" lengthAdjust="spacing">Close</text>

<!-- green arrow -->
<line x1="1133" y1="729" x2="1300" y2="488" stroke="#00f530" stroke-width="6" stroke-linecap="round"/>
<polygon points="1315,467 1291,485 1308,495" fill="#00f530"/>

<!-- right tool panel -->
<rect x="1757" y="75" width="163" height="405" fill="#16302a"/>
<rect x="1757" y="238" width="163" height="4" fill="#5e9090"/>
<g transform="translate(1759,78)"><use href="#bt"/><use href="#iu"/></g>
<g transform="translate(1799,78)"><use href="#bt"/><use href="#id"/></g>
<g transform="translate(1839,78)"><use href="#bt"/><path d="M10,18 L19,9 28,18M12,17v13h14v-13M15,22h4v4h-4zM21,22h3v8h-3zM25,12V7" fill="none" stroke="#000" stroke-width="1.300"/></g>
<g transform="translate(1879,78)"><use href="#bt"/><rect x="7" y="8" width="24" height="23" fill="none" stroke="#000" stroke-width="2"/><path d="M19,8v23M7,22h24" stroke="#000" stroke-width="1.500"/></g>
<g transform="translate(1759,118)"><use href="#bt"/><use href="#il"/></g>
<g transform="translate(1799,118)"><use href="#bt"/><use href="#ir"/></g>
<g transform="translate(1839,118)"><use href="#bt"/><rect x="18" y="12" width="13" height="14" fill="none" stroke="#000" stroke-width="2"/><path d="M14,13h-4v4h3v3l-3,3" fill="none" stroke="#000" stroke-width="2"/></g>
<g transform="translate(1879,118)"><use href="#bt"/><path d="M29,11H11v8h17v8H9" fill="none" stroke="#000" stroke-width="2"/></g>
<g transform="translate(1759,158)"><use href="#bt"/><use href="#ifit"/></g>
<g transform="translate(1799,158)"><use href="#bt"/><use href="#ipan"/></g>
<g transform="translate(1839,158)"><use href="#bt"/><text class="s" x="10" y="24" font-size="14" font-weight="bold" fill="#000">1:2</text></g>
<g transform="translate(1879,158)"><use href="#bt"/><rect x="7" y="7" width="24" height="24" fill="none" stroke="#000" stroke-width="2"/><text class="m" x="15" y="25" font-size="15" font-weight="bold" fill="#000">?</text></g>
<g transform="translate(1759,198)"><use href="#bt"/><path d="M7,12h19M7,16h21l2,2 -2,2H9" stroke="#000" stroke-width="2" fill="none"/><ellipse cx="20" cy="27" rx="6" ry="4" fill="none" stroke="#000"/></g>
<g transform="translate(1799,198)"><use href="#bt"/><path d="M5,14h28M5,24h28M14,5v28M24,5v28" stroke="#8cbcbc"/></g>
<g transform="translate(1839,198)"><use href="#bt"/><use href="#tl"/><circle cx="28" cy="19.500" r="2.600" fill="#f5c040"/><path d="M9,18h8M17,10v20" stroke="#b01818" stroke-width="1"/><circle cx="10" cy="18" r="2.500" fill="#e01818"/><circle cx="17" cy="9" r="2.500" fill="#1030e0"/><circle cx="10" cy="27" r="2.500" fill="#1030e0"/></g>
<g transform="translate(1879,198)"><use href="#bt"/><use href="#tl"/><circle cx="28" cy="13" r="3" fill="#f01010"/><path d="M16,10v18h-7M9,18h9" stroke="#000"/><circle cx="16" cy="9" r="2.500" fill="#000"/><circle cx="9" cy="18" r="2.500" fill="#000"/><circle cx="9" cy="28" r="2.500" fill="#000"/></g>

<g transform="translate(1759,243)"><use href="#bw"/><circle cx="17" cy="21" r="7" fill="#000"/><rect x="8" y="12" width="19" height="19" fill="none" stroke="#000"/><path d="M21,16L31,7M25,7h6v6" stroke="#000" stroke-width="2" fill="none"/></g>
<g transform="translate(1799,243)"><use href="#bw"/><rect x="5" y="5" width="28" height="28" fill="#000"/><rect x="18" y="7" width="12" height="12" fill="none" stroke="#d01010" stroke-width="2.500"/><rect x="7" y="24" width="7" height="7" fill="none" stroke="#1020d0" stroke-width="2"/><path d="M8,24L18,8M14,30L30,19" stroke="#fff"/></g>
<g transform="translate(1839,243)"><use href="#bw"/><rect x="7" y="15" width="24" height="8" fill="#000"/><path d="M9,15v3M12,15v4M15,15v3M18,15v4M21,15v3M24,15v4M27,15v3" stroke="#fff"/></g>
<g transform="translate(1879,243)"><use href="#bw"/><polygon points="14,12 24,12 27,15 27,24 24,27 14,27 11,24 11,15" fill="#000"/><rect x="7" y="7" width="24" height="24" fill="none" stroke="#000" stroke-dasharray="2 2"/></g>

<g transform="translate(1759,283)"><use href="#bg"/><path d="M11,11V27H30" stroke="#0a20e0" stroke-width="3.500" fill="none"/><circle cx="11" cy="11" r="4.500" fill="#0a20e0"/><circle cx="11" cy="27" r="4.500" fill="#0a20e0"/><circle cx="30" cy="27" r="4.500" fill="#0a20e0"/><circle cx="27" cy="11" r="4.500" fill="#ee1010"/></g>
<g transform="translate(1799,283)"><use href="#bg"/><path d="M9,10L28,28M28,10L9,28" stroke="#000" stroke-width="2.500"/><circle cx="19" cy="19" r="4.500" fill="#101c9e"/></g>
<g transform="translate(1839,283)"><use href="#bg"/><circle cx="9" cy="27" r="3.500" fill="none" stroke="#0a20e0" stroke-width="2"/><circle cx="27" cy="11" r="4.500" fill="#ee1010"/><path d="M13,23L21,16" stroke="#000"/></g>
<g transform="translate(1879,283)"><use href="#bg"/><circle cx="11" cy="27" r="4.500" fill="#0a20e0"/><circle cx="27" cy="11" r="4.500" fill="#ee1010"/><path d="M15,23L22,16" stroke="#000"/></g>

<g transform="translate(1759,323)"><use href="#bg"/><path d="M9,27L28,9" stroke="#e01010" stroke-width="2.500"/><path d="M10,31H30" stroke="#0a20e0" stroke-width="3"/><path d="M24,21l3,3" stroke="#000"/></g>
<g transform="translate(1799,323)"><use href="#bg"/><path d="M9,28L19,18" stroke="#0a20e0" stroke-width="3"/><path d="M19,18L29,8" stroke="#e01010" stroke-width="3"/></g>
<g transform="translate(1839,323)"><use href="#bg"/><path d="M16,9a10,10 0 0,1 3,19h-6" fill="none" stroke="#000" stroke-width="1.500"/><path d="M15,24l-3,4 4,3" fill="none" stroke="#000" stroke-width="1.500"/></g>
<g transform="translate(1879,323)"><use href="#bg"/><path d="M6,10h10v19M6,18h10" stroke="#1a2cd0" stroke-width="2.500" fill="none"/><path d="M32,10H22V29M32,18H22" stroke="#d0203a" stroke-width="2.500" fill="none"/><path d="M19,7V31" stroke="#000"/></g>

<g transform="translate(1759,363)"><use href="#bg"/><rect x="21" y="6" width="11" height="11" fill="#e01010"/><circle cx="26.500" cy="11.500" r="3" fill="#c8c8c8"/><rect x="6" y="21" width="11" height="11" fill="none" stroke="#0a20e0"/><circle cx="11.500" cy="26.500" r="3.500" fill="#0a20e0"/></g>
<g transform="translate(1799,363)"><use href="#bg"/><path d="M8,19H30" stroke="#e01010" stroke-width="3"/><path d="M15,19H23" stroke="#0a20e0" stroke-width="3"/></g>
<g transform="translate(1839,363)"><use href="#bg"/><path d="M8,8V30M30,8V30" stroke="#000"/><path d="M9,19H29" stroke="#0a20e0"/><rect x="15" y="14" width="8" height="10" fill="none" stroke="#0a20e0"/></g>
<g transform="translate(1879,363)"><use href="#bg"/><path d="M8,8h14v9h10v14h-16v-9h-8z" fill="#0a20e0"/><circle cx="14" cy="14" r="3.500" fill="#c8c8c8"/><circle cx="24" cy="24" r="4.500" fill="#c8c8c8"/></g>

<g transform="translate(1759,403)"><use href="#bg"/><path d="M9,28L20,13 30,28" fill="none" stroke="#e01010" stroke-width="2"/><path d="M8,29H31" stroke="#0a20e0" stroke-width="3"/></g>
<g transform="translate(1799,403)"><use href="#bg"/><path d="M7,32L19,6 31,32" fill="none" stroke="#d01030" stroke-width="2"/><path d="M9,32L19,21 29,32" fill="none" stroke="#0a20e0" stroke-width="2.500"/></g>
<g transform="translate(1839,403)"><use href="#bg"/><path d="M11,21L14,9h10l3,12" fill="none" stroke="#e01010" stroke-width="3"/><path d="M11,21L6,32M27,21l5,11M11,23H27" fill="none" stroke="#0a20e0" stroke-width="3"/></g>
<g transform="translate(1879,403)"><use href="#bg"/><path d="M10,24L15,9h9l5,15" fill="none" stroke="#e01010" stroke-width="3"/><path d="M5,25H33" stroke="#0a20e0" stroke-width="3"/></g>

<g transform="translate(1759,443)"><use href="#by"/><use href="#cur"/></g>
<g transform="translate(1799,443)"><use href="#by"/><rect x="8" y="8" width="22" height="22" fill="none" stroke="#d83010" stroke-width="2.500"/><use href="#cur"/></g>
<g transform="translate(1839,443)"><use href="#by"/><polygon points="14,8 26,8 30,13 30,25 26,30 12,30 8,25 8,14" fill="none" stroke="#d83010" stroke-width="2.500"/><use href="#cur"/></g>
<g transform="translate(1879,443)"><use href="#by"/><path d="M10,29h6V21h5V11h8" fill="none" stroke="#000"/><circle cx="10" cy="21" r="2.200" fill="#d01010"/><circle cx="10" cy="29" r="2.200" fill="#10b040"/><circle cx="28" cy="11" r="2.200" fill="#10b040"/><g transform="translate(10,7) scale(.72)"><use href="#cur"/></g></g>

<!-- overview area -->
<rect x="1757" y="480" width="163" height="4" fill="#6a8a84"/>
<rect x="1757" y="484" width="1.500" height="400" fill="#3d7a6a"/>
<rect x="1758" y="628.500" width="162" height="110" fill="none" stroke="#3f7d1e"/>
<rect x="1771" y="636" width="136" height="73" fill="#fa0000"/>
<rect x="1821" y="647" width="40" height="62" fill="none" stroke="#50c8d8" stroke-width="2"/>
<path d="M1861,647V709H1822" fill="none" stroke="#9a9a9a" stroke-width="2"/>
<path d="M1818,705l7,7m0,-7l-7,7" stroke="#e0ffff"/>
<circle cx="1925" cy="840" r="22.500" fill="#f08030" stroke="#f5d8c0" stroke-width="1.500"/>
<text x="1907" y="845" font-family="'Liberation Sans',sans-serif" font-weight="bold" font-size="13" fill="#fff">76</text>
<rect x="1757" y="883" width="163" height="43" fill="#52cfb0"/>
<rect x="1757" y="881" width="163" height="2" fill="#d0f4e8"/>
<text class="m" x="1761" y="902" font-size="13" font-weight="bold" fill="#062020" textLength="116" lengthAdjust="spacing">X = 0.499005"</text>
<text class="m" x="1761" y="917" font-size="13" font-weight="bold" fill="#062020" textLength="116" lengthAdjust="spacing">Y = 0.926656"</text>

<!-- bottom bar -->
<rect x="0" y="928" width="1842" height="32" fill="#ffffd0"/>
<g fill="none" stroke="#000">
<rect x="1.500" y="929.500" width="29" height="28" stroke="#8a8a60"/><rect x="6.500" y="934.500" width="19" height="19"/><path d="M10,938l12,12m0,-5v5h-5"/>
<rect x="33.500" y="929.500" width="29" height="28" stroke="#8a8a60"/><rect x="38.500" y="934.500" width="19" height="19"/><path d="M42,950l11,-13"/>
</g>
<rect x="65" y="929" width="30" height="31" fill="#6fc0a8"/><rect x="68" y="932" width="24" height="25" fill="#ffffd0"/><g fill="none" stroke="#000"><rect x="72.500" y="936.500" width="15" height="16"/><path d="M72,945h16M80,936v17"/></g>
<text class="m" x="98" y="950" font-size="14" font-weight="bold" fill="#000" textLength="35" lengthAdjust="spacing">X Y :</text>
<rect x="144" y="930" width="171" height="28" fill="#b3b38a"/><rect x="147" y="933" width="165" height="22" fill="#ffffd0"/>
<path d="M152,934v16" stroke="#000" stroke-dasharray="1 1"/>
<rect x="316" y="928" width="1" height="32" fill="#333"/>
<rect x="317" y="929" width="30" height="31" fill="#6fc0a8"/><rect x="320" y="932" width="24" height="25" fill="#ffffd0"/><rect x="324.500" y="936.500" width="15" height="16" fill="none" stroke="#000"/><rect x="331" y="938" width="2" height="9" fill="#000"/><rect x="331" y="949" width="2" height="2" fill="#000"/>
<rect x="347" y="928" width="1" height="32" fill="#333"/>
<text class="m" x="352" y="949" font-size="12.500" fill="#000" stroke="#000" stroke-width=".25" textLength="216" lengthAdjust="spacing">&lt;M1&gt; - Select first area corner</text>
<rect x="1842" y="928" width="78" height="32" fill="#52cfb0"/>
<rect x="1842" y="928" width="78" height="2" fill="#d0f4e8"/>
<rect x="1846" y="957" width="72" height="2" fill="#2f7060"/>
<text class="m" x="1853" y="950" font-size="15" fill="#000" stroke="#000" stroke-width=".25" textLength="35" lengthAdjust="spacing">Inch</text>
<rect x="1904" y="941" width="10" height="8" fill="#9fdada" stroke="#2f7060"/>

<!-- status bar -->
<rect x="0" y="960" width="1920" height="2" fill="#000"/>
<rect x="0" y="962" width="1920" height="3" fill="#6fa5a0"/>
<rect x="2" y="965" width="1915" height="21" fill="#b0ffff"/>
<rect x="2" y="985" width="1915" height="2" fill="#5e9090"/>
<rect x="2" y="987" width="1915" height="3" fill="#cffcfc"/>
<rect x="0" y="990" width="1920" height="1.500" fill="#000"/>
<text class="m" x="806" y="981" font-size="12.500" fill="#000" stroke="#000" stroke-width=".25" textLength="309" lengthAdjust="spacing">drl.d,#181,Pad,X=0.00001,Y=0.57999,r23.6,POS</text>
<rect x="0" y="991.500" width="1920" height="5" fill="#d8d8d4"/>
<rect x="2" y="996.500" width="1900" height="5" fill="#52bfa0" stroke="#2f5f50" stroke-width=".8"/>
<rect x="1902" y="996" width="16" height="6" fill="#9fdada" stroke="#444" stroke-width=".6"/>
<rect x="0" y="1002" width="1920" height="4" fill="#efefe8"/>

<!-- taskbar -->
<rect x="0" y="1006" width="1920" height="8" fill="#d4d0c8"/>
<g fill="#fff"><rect x="0" y="1006" width="1920" height="1"/></g>
<g fill="#555">
<rect x="46" y="1006" width="1" height="8"/><rect x="57" y="1006" width="1" height="8"/><rect x="168" y="1006" width="1" height="8"/><rect x="320" y="1006" width="1" height="8"/><rect x="322" y="1006" width="1" height="8"/><rect x="472" y="1006" width="1" height="8"/><rect x="474" y="1006" width="1" height="8"/><rect x="625" y="1006" width="1" height="8"/><rect x="627" y="1006" width="1" height="8"/><rect x="778" y="1006" width="1" height="8"/><rect x="780" y="1006" width="1" height="8"/><rect x="931" y="1006" width="1" height="8"/><rect x="933" y="1006" width="1" height="8"/><rect x="1082" y="1006" width="1" height="8"/><rect x="1084" y="1006" width="1" height="8"/><rect x="1235" y="1006" width="1" height="8"/><rect x="1237" y="1006" width="1" height="8"/><rect x="1540" y="1006" width="1" height="8"/><rect x="1690" y="1006" width="1" height="8"/><rect x="1735" y="1006" width="1" height="8"/>
</g>
<rect x="1387" y="1006" width="150" height="8" fill="#fff"/><rect x="1387" y="1006" width="150" height="1.500" fill="#333"/>
<rect x="5" y="1010" width="12" height="4" fill="#c85018"/><rect x="20" y="1011" width="20" height="3" fill="#777"/>
<rect x="76" y="1008" width="12" height="6" fill="#5a4a8a"/><rect x="115" y="1009" width="10" height="5" fill="#b03020"/><rect x="143" y="1008" width="12" height="6" fill="#5a4a8a"/><rect x="172" y="1008" width="10" height="6" fill="#2040a0"/>
<rect x="328" y="1008" width="10" height="6" fill="#9aa0c0"/><rect x="345" y="1011" width="30" height="3" fill="#777"/><rect x="484" y="1008" width="8" height="6" fill="#d0a040"/><rect x="500" y="1011" width="70" height="3" fill="#777"/><rect x="634" y="1008" width="10" height="6" fill="#80a080"/><rect x="655" y="1011" width="60" height="3" fill="#777"/><rect x="786" y="1008" width="10" height="6" fill="#eee"/><rect x="805" y="1011" width="50" height="3" fill="#777"/><rect x="936" y="1008" width="10" height="6" fill="#207080"/>
<rect x="1090" y="1008" width="12" height="6" fill="#3040a0"/><rect x="1243" y="1008" width="12" height="6" fill="#3040a0"/><rect x="1392" y="1008" width="12" height="6" fill="#3040a0"/><rect x="1545" y="1008" width="10" height="6" fill="#208060"/>
<rect x="1790" y="1009" width="8" height="5" fill="#30a030"/><rect x="1825" y="1009" width="3" height="5" fill="#d02020"/><rect x="1770" y="1010" width="4" height="4" fill="#888"/>
</svg>
</body></html>
